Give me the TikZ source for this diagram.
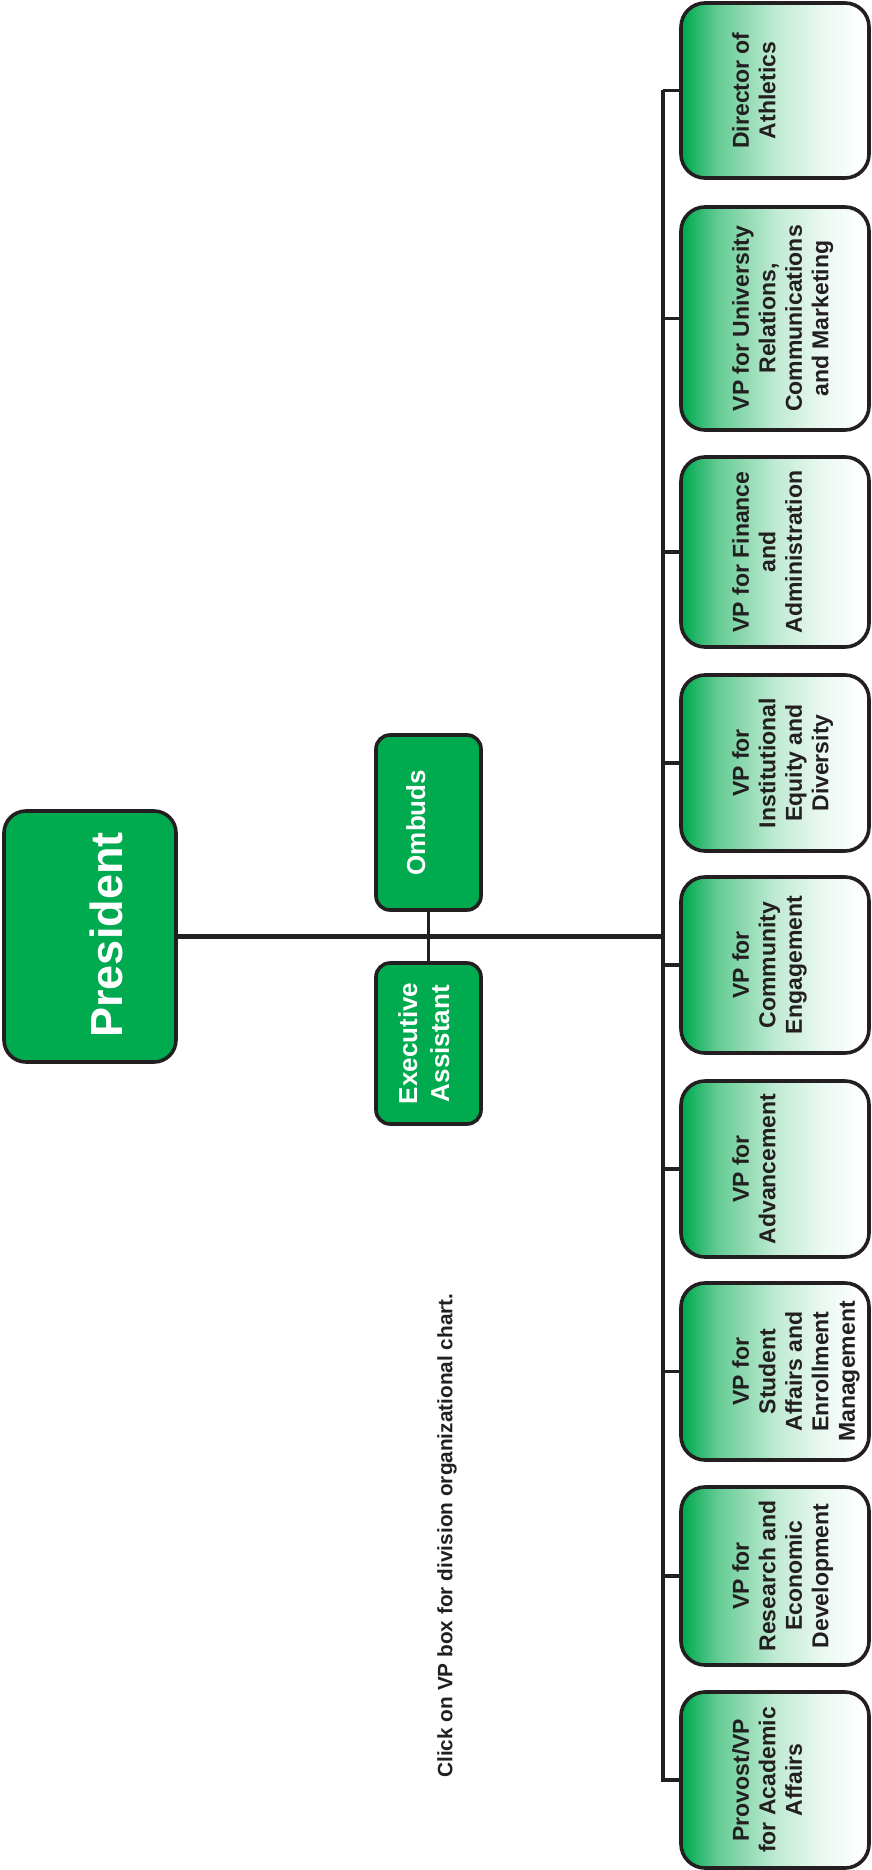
\documentclass[tikz,border=0pt]{standalone}
\usepackage{fontspec}
\setmainfont{Liberation Sans}
\definecolor{grn}{RGB}{0,170,79}
\definecolor{ink}{RGB}{35,31,32}
\pgfdeclarehorizontalshading{vpshade}{100bp}{color(0bp)=(grn); color(25.5bp)=(grn); color(35bp)=(grn!60!white); color(50bp)=(grn!25!white); color(62.5bp)=(grn!8!white); color(72.5bp)=(grn!1!white); color(75bp)=(white); color(100bp)=(white)}
\begin{document}
\begin{tikzpicture}[x=1pt,y=-1pt,
  box/.style={draw=ink, line width=3.6pt, inner sep=0pt, outer sep=0pt},
  greenbox/.style={box, fill=grn},
  vpbox/.style={box, shade, shading=vpshade, rounded corners=24pt, minimum width=188pt},
  vptext/.style={text=ink, font=\bfseries\fontsize{23}{26.5}\selectfont, align=center, inner sep=0pt, rotate=90, anchor=north},
  wtext/.style={text=white, font=\bfseries\fontsize{26}{32}\selectfont, align=center, inner sep=0pt, rotate=90, anchor=north},
  mainline/.style={draw=ink, line width=4.5pt},
  busline/.style={draw=ink, line width=4pt},
  stubline/.style={draw=ink, line width=3.5pt}
]
\useasboundingbox (0,0) rectangle (871,1870);

% bus coordinates
\coordinate (busTop) at (663,90);
\coordinate (busBot) at (663,1782);

% boxes
\node[greenbox, rounded corners=22pt, minimum width=172pt, minimum height=251pt] (pres) at (90,936.5) {};
\node[greenbox, rounded corners=14pt, minimum width=105pt, minimum height=175pt] (omb) at (428.5,822.5) {};
\node[greenbox, rounded corners=14pt, minimum width=105pt, minimum height=161pt] (exe) at (428.5,1043.5) {};

\node[vpbox, minimum height=175pt] (dir) at (775,90.5) {};
\node[vpbox, minimum height=223pt] (univ) at (775,318.5) {};
\node[vpbox, minimum height=190pt] (fin) at (775,552) {};
\node[vpbox, minimum height=176pt] (inst) at (775,763) {};
\node[vpbox, minimum height=176pt] (comm) at (775,965) {};
\node[vpbox, minimum height=176pt] (adv) at (775,1169) {};
\node[vpbox, minimum height=177pt] (stud) at (775,1371.5) {};
\node[vpbox, minimum height=178pt] (res) at (775,1576) {};
\node[vpbox, minimum height=176pt] (prov) at (775,1780) {};

% connectors
\draw[mainline] (pres.east) -- (pres.east -| busTop);
\draw[busline] (busTop) -- (busBot);
\draw[stubline] (omb.south) -- (exe.north);
\foreach \n in {dir,univ,fin,inst,comm,adv,stud,res,prov}{
  \draw[stubline] (\n.west) -- (\n.west -| busTop);
}

% texts
\node[text=white, font=\bfseries\fontsize{45}{54}\selectfont, inner sep=0pt, rotate=90, anchor=base] (presT) at (122,935) {President};
\node[wtext] (ombT) at (406,822.5) {Ombuds};
\node[wtext] (exeT) at (398,1043.5) {Executive\\Assistant};

\node[vptext] (dirT) at (732,90.5) {Director of\\Athletics};
\node[vptext] (univT) at (732,318.5) {VP for University\\Relations,\\Communications\\and Marketing};
\node[vptext] (finT) at (732,552) {VP for Finance\\and\\Administration};
\node[vptext] (instT) at (732,763) {VP for\\Institutional\\Equity and\\Diversity};
\node[vptext] (commT) at (732,965) {VP for\\Community\\Engagement};
\node[vptext] (advT) at (732,1169) {VP for\\Advancement};
\node[vptext] (studT) at (732,1371.5) {VP for\\Student\\Affairs and\\Enrollment\\Management};
\node[vptext] (resT) at (732,1576) {VP for\\Research and\\Economic\\Development};
\node[vptext] (provT) at (732,1780) {Provost/VP\\for Academic\\Affairs};

\node[text=ink, font=\bfseries\fontsize{20.8}{25}\selectfont, inner sep=0pt, rotate=90, anchor=north] (note) at (437,1535.5) {Click on VP box for division organizational chart.};
\end{tikzpicture}
\end{document}
